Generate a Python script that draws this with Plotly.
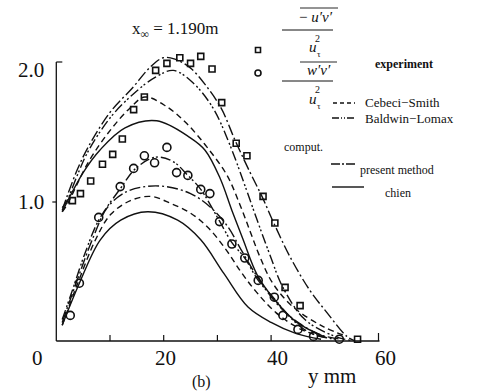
import plotly.graph_objects as go

# ---------------- data ----------------
# experiment: -u'v'/u_tau^2 (squares)
uv_exp_y = [3.0, 4.5, 6.4, 8.6, 10.5, 12.3, 14.4, 16.4, 18.5, 20.6, 23.0, 25.0,
            26.9, 29.0, 30.8, 33.5, 35.5, 38.5, 40.7, 42.6, 45.4, 56.1]
uv_exp = [1.01, 1.06, 1.15, 1.27, 1.34, 1.45, 1.66, 1.75, 1.94, 1.99, 2.03, 1.99,
          2.04, 1.95, 1.71, 1.42, 1.33, 1.04, 0.85, 0.39, 0.26, 0.02]

# experiment: w'v'/u_tau^2 (circles)
wv_exp_y = [2.6, 4.3, 7.9, 11.9, 14.4, 16.4, 18.3, 20.6, 22.4, 24.5, 26.9, 28.6,
            30.4, 32.7, 35.1, 37.6, 40.6, 42.2, 45.0, 47.9, 52.7]
wv_exp = [0.19, 0.42, 0.89, 1.11, 1.24, 1.33, 1.28, 1.39, 1.21, 1.19, 1.09, 1.06,
          0.86, 0.70, 0.60, 0.44, 0.32, 0.19, 0.09, 0.04, 0.02]

# computed -u'v'/u_tau^2
uv_present_y = [1.1, 2.0, 3.9, 5.9, 10.0, 14.3, 17.4, 19.9, 22.1, 24.9, 27.7, 30.7,
                33.3, 36.1, 38.3, 40.5, 43.5, 47.2, 50.4, 54.1, 55.5]
uv_present = [0.94, 1.04, 1.23, 1.39, 1.64, 1.82, 1.96, 2.03, 2.02, 1.96, 1.84, 1.67,
              1.44, 1.21, 1.04, 0.85, 0.61, 0.37, 0.21, 0.04, 0.01]

uv_bl_y = [1.1, 2.0, 3.9, 5.9, 10.0, 14.3, 18.4, 21.8, 25.5, 29.2, 32.3, 35.1,
           37.5, 39.8, 42.2, 46.3, 51.9, 55.1]
uv_bl = [0.96, 1.01, 1.19, 1.36, 1.60, 1.77, 1.89, 1.94, 1.85, 1.67, 1.41, 1.12,
         0.86, 0.62, 0.39, 0.16, 0.04, 0.01]

uv_cs_y = [1.1, 2.0, 5.9, 10.0, 13.7, 16.5, 20.6, 24.3, 28.1, 31.8, 34.2, 36.1,
           37.9, 40.3, 44.1, 49.7, 54.1]
uv_cs = [0.93, 0.98, 1.28, 1.51, 1.67, 1.75, 1.68, 1.56, 1.39, 1.19, 0.98, 0.79,
         0.61, 0.42, 0.25, 0.11, 0.04]

uv_chien_y = [1.1, 5.0, 8.1, 12.8, 18.7, 24.9, 27.7, 30.5, 32.7, 34.8, 37.4, 40.7,
              44.8, 50.4]
uv_chien = [0.93, 1.21, 1.37, 1.53, 1.58, 1.46, 1.37, 1.17, 0.94, 0.73, 0.48, 0.30,
            0.14, 0.03]

# computed w'v'/u_tau^2
wv_bl_y = [1.1, 3.0, 5.4, 7.9, 12.0, 14.8, 18.5, 21.7, 24.5, 26.9, 30.3, 32.7,
           35.1, 37.6, 40.6, 43.7, 47.5, 52.1]
wv_bl = [0.16, 0.37, 0.64, 0.87, 1.10, 1.24, 1.32, 1.29, 1.19, 1.09, 0.87, 0.71,
         0.60, 0.44, 0.31, 0.17, 0.06, 0.02]

wv_present_y = [1.1, 3.6, 6.9, 9.5, 12.9, 16.6, 20.4, 25.0, 28.8, 32.0, 34.4, 37.2,
                40.9, 45.0, 49.3, 53.0]
wv_present = [0.14, 0.41, 0.75, 0.96, 1.07, 1.11, 1.11, 1.06, 0.96, 0.82, 0.66, 0.48,
              0.28, 0.14, 0.05, 0.02]

wv_cs_y = [1.1, 3.9, 7.3, 10.1, 13.8, 17.6, 21.3, 25.0, 28.2, 31.6, 34.4, 37.2,
           40.9, 45.6, 50.3]
wv_cs = [0.12, 0.41, 0.73, 0.91, 1.01, 1.04, 0.99, 0.92, 0.82, 0.66, 0.50, 0.36,
         0.21, 0.09, 0.03]

wv_chien_y = [1.1, 4.3, 8.2, 12.0, 17.0, 22.6, 26.9, 31.2, 35.7, 40.0, 44.7, 49.3]
wv_chien = [0.12, 0.42, 0.73, 0.87, 0.93, 0.87, 0.73, 0.49, 0.25, 0.14, 0.06, 0.02]

x_ticks = [10, 20, 30, 40, 60]
x_labels = ["0", "20", "40", "60"]
y_labels = ["1.0", "2.0"]

# ---------------- layout geometry ----------------
W, H = 491, 392
ML, MR, MT, MB = 46, 91, 40, 47
PW, PH = W - ML - MR, H - MT - MB
X0_PX, PX_PER_MM = 56.3, 5.37
Y0_PX, PX_PER_UNIT = 342.0, 140.0
XR = [(ML - X0_PX) / PX_PER_MM, (W - MR - X0_PX) / PX_PER_MM]
YR = [(Y0_PX - (H - MB)) / PX_PER_UNIT, (Y0_PX - MT) / PX_PER_UNIT]


def fx(p):
    return (p - ML) / PW


def fy(p):
    return (H - MB - p) / PH


SERIF = "Liberation Serif, Times New Roman, serif"
INK = "#111111"
DASH = "6px,4px"
DASHDOT = "11px,3px,2px,3px"
DASHDOTDOT = "10px,3px,2px,2px,2px,3px"

fig = go.Figure()


def curve(xs, ys, dash):
    fig.add_trace(go.Scatter(x=xs, y=ys, mode="lines", line_shape="spline",
                             line=dict(color=INK, width=1.4, dash=dash,
                                       smoothing=1.0),
                             hoverinfo="skip", showlegend=False))


curve(uv_present_y, uv_present, DASHDOT)
curve(uv_bl_y, uv_bl, DASHDOTDOT)
curve(uv_cs_y, uv_cs, DASH)
curve(uv_chien_y, uv_chien, "solid")
curve(wv_bl_y, wv_bl, DASHDOTDOT)
curve(wv_present_y, wv_present, DASHDOT)
curve(wv_cs_y, wv_cs, DASH)
curve(wv_chien_y, wv_chien, "solid")

fig.add_trace(go.Scatter(x=uv_exp_y, y=uv_exp, mode="markers", cliponaxis=False,
                         marker=dict(symbol="square-open", size=6, color=INK,
                                     line=dict(width=1.6, color=INK)),
                         showlegend=False))
fig.add_trace(go.Scatter(x=wv_exp_y, y=wv_exp, mode="markers", cliponaxis=False,
                         marker=dict(symbol="circle-open", size=8, color=INK,
                                     line=dict(width=1.6, color=INK)),
                         showlegend=False))

shapes = []


def pline(x0, y0, x1, y1, dash="solid", w=1.3):
    shapes.append(dict(type="line", xref="paper", yref="paper",
                       x0=fx(x0), y0=fy(y0), x1=fx(x1), y1=fy(y1),
                       line=dict(color=INK, width=w, dash=dash)))


# axes
AX = X0_PX
AY = 341
pline(AX, 62, AX, AY, w=1.3)
pline(AX, AY, X0_PX + 60 * PX_PER_MM + 1, AY, w=1.3)
for t in x_ticks:
    px = X0_PX + t * PX_PER_MM
    pline(px, AY, px, AY - (8 if t == 60 else 6), w=1.2)
pline(AX, 62, AX + 6, 62, w=1.2)
pline(AX - 4, 202, AX, 202, w=1.2)

# legend glyphs
shapes.append(dict(type="rect", xref="paper", yref="paper",
                   x0=fx(255.5), y0=fy(52.5), x1=fx(260.5), y1=fy(47.5),
                   line=dict(color=INK, width=1.6)))
shapes.append(dict(type="circle", xref="paper", yref="paper",
                   x0=fx(255), y0=fy(76), x1=fx(261), y1=fy(70),
                   line=dict(color=INK, width=1.6)))
# fraction bars and overlines
pline(282, 30, 333, 30, w=1.0)
pline(300, 8, 338, 8, w=0.9)
pline(282, 81, 333, 81, w=1.0)
pline(300, 62, 337, 62, w=0.9)
# line samples
pline(333, 103, 355, 103, dash="4px,3px", w=1.3)
pline(332, 118, 356, 118, dash="7px,2px,1px,2px,1px,2px", w=1.3)
pline(331, 164, 355, 164, dash="9px,2px,2px,2px", w=1.3)
pline(332, 187, 364, 187, w=1.4)

ann = []


def text(px, py, s, size, anchor="center", font=SERIF, color=INK):
    ann.append(dict(x=fx(px), y=fy(py), xref="paper", yref="paper", text=s,
                    showarrow=False, xanchor=anchor, yanchor="middle",
                    font=dict(family=font, size=size, color=color)))


# tick labels
for lab, px in zip(x_labels, [37, 165, 277, 385]):
    text(px, 358, lab, 21)
for lab, py in zip(y_labels, [202, 70]):
    text(31, py, lab, 21)
text(201, 382, "(b)", 16)
text(332, 376, "y mm", 21)

# station label
text(175, 30, "x<sub>∞</sub> = 1.190m", 17)

# legend text
text(316, 17, "− <i>u′v′</i>", 15)
text(317, 38, "2", 10)
text(313, 47, "<i>u</i>", 15)
text(319, 54, "τ", 9)
text(319, 70, "<i>w′v′</i>", 15)
text(317, 90, "2", 10)
text(313, 99, "<i>u</i>", 15)
text(319, 106, "τ", 9)
text(373, 64, "<b>experiment</b>", 12, anchor="left")
text(363, 102, "Cebeci−Smith", 13, anchor="left")
text(363, 118, "Baldwin−Lomax", 13, anchor="left")
text(282, 147, "comput.", 12, anchor="left")
text(358, 170, "present method", 12, anchor="left")
text(383, 193, "chien", 12, anchor="left")

fig.update_layout(
    width=W, height=H,
    margin=dict(l=ML, r=MR, t=MT, b=MB),
    paper_bgcolor="white", plot_bgcolor="white",
    xaxis=dict(range=XR, visible=False, fixedrange=True),
    yaxis=dict(range=YR, visible=False, fixedrange=True),
    shapes=shapes, annotations=ann, showlegend=False,
)

fig.write_html("out.html")
